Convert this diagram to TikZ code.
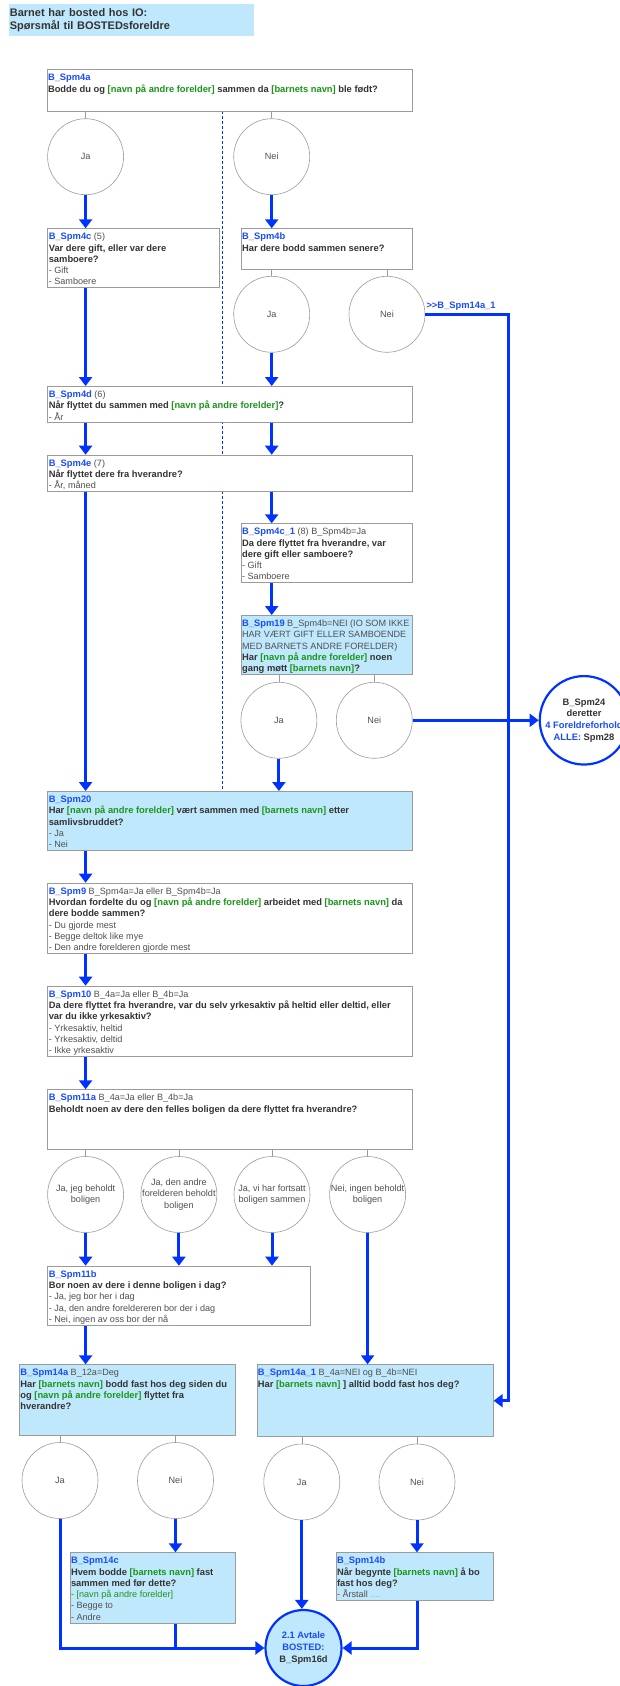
\documentclass[tikz,border=0pt]{standalone}
\usepackage{fontspec}
\setmainfont{Liberation Sans}
\usetikzlibrary{positioning,arrows.meta}

\definecolor{flowblue}{RGB}{0,51,255}
\definecolor{idblue}{RGB}{25,75,255}
\definecolor{boxgray}{RGB}{155,155,155}
\definecolor{qfill}{RGB}{192,232,252}
\definecolor{txtgray}{RGB}{51,51,51}
\definecolor{optgray}{RGB}{80,80,80}
\definecolor{navngreen}{RGB}{25,150,25}

\newcommand{\qfont}{\fontsize{9.1}{11.3}\selectfont}
\newcommand{\qq}[1]{{\fontsize{9.35}{11.3}\selectfont\bfseries #1}}
\newcommand{\qid}[1]{\qq{\textcolor{idblue}{#1}}}
\newcommand{\gr}[1]{\textcolor{navngreen}{#1}}
\newcommand{\opt}[1]{\textcolor{optgray}{#1}}
\newcommand{\lin}[1]{\makebox[0pt]{#1}}
\newcommand{\qtext}[3]{\begin{minipage}[t][#2][t]{#1}\raggedright\rule{0pt}{9pt}#3\end{minipage}}

\tikzset{
	qbox/.style={draw=boxgray, line width=0.8pt, fill=white, anchor=north west, inner xsep=1pt, inner ysep=2pt, font=\qfont, text=txtgray},
	qboxblue/.style={qbox, fill=qfill},
	svar/.style={circle, draw=boxgray, line width=0.6pt, fill=white, minimum size=76pt, inner sep=0pt, align=center, font=\qfont, text=optgray},
	slutt/.style={circle, draw=flowblue, line width=2.2pt, inner sep=0pt, align=center, font=\fontsize{9.35}{11.6}\selectfont\bfseries, text=txtgray},
	flow/.style={draw=flowblue, line width=3pt, -{Triangle[width=13pt,length=9pt]}},
	flowline/.style={draw=flowblue, line width=3pt},
	tie/.style={draw=boxgray, line width=0.6pt},
	skille/.style={draw=flowblue, line width=0.8pt, dash pattern=on 3pt off 2pt}
}

\begin{document}
\begin{tikzpicture}[x=1pt,y=-1pt]
	\useasboundingbox (0,0) rectangle (619,1686);

	\node[anchor=north west, fill=qfill, minimum width=245pt, minimum height=31.7pt, text width=243pt, inner xsep=1pt, inner ysep=0pt, align=left, font=\fontsize{11}{13.3}\selectfont\bfseries, text=txtgray] (tittel) at (8.7,4) {Barnet har bosted hos IO:\\Spørsmål til BOSTEDsforeldre};

	\coordinate (skille_topp) at (222.5,111);
	\coordinate (skille_bunn) at (222.5,791);
	\draw[skille] (skille_topp) -- (skille_bunn);

	\node[qbox] (q4a) at (46.6,69.3) {\qtext{363.7pt}{37.7pt}{\qid{B\_Spm4a}\\ \qq{Bodde du og \gr{[navn på andre forelder]} sammen da \gr{[barnets navn]} ble født?}}};
	\node[svar] (a4_ja) at (85.6,156.7) {Ja};
	\node[svar] (a4_nei) at (271.7,156.7) {Nei};

	\node[qbox] (q4c) at (47.4,228.3) {\qtext{169.2pt}{54.7pt}{\qid{B\_Spm4c} \opt{(5)}\\ \qq{Var dere gift, eller var dere\\ samboere?}\\ \opt{- Gift}\\ \opt{- Samboere}}};
	\node[qbox] (q4b) at (240.7,228.3) {\qtext{169.6pt}{37pt}{\qid{B\_Spm4b}\\ \qq{Har dere bodd sammen senere?}}};
	\node[svar] (a4b_ja) at (271.7,314.3) {Ja};
	\node[svar] (a4b_nei) at (387,314.3) {Nei};

	\node[qbox] (q4d) at (47.4,386) {\qtext{363pt}{32.3pt}{\qid{B\_Spm4d} \opt{(6)}\\ \qq{Når flyttet du sammen med \gr{[navn på andre forelder]}?}\\ \opt{- År}}};
	\node[qbox] (q4e) at (47.4,454.7) {\qtext{363pt}{32.3pt}{\qid{B\_Spm4e} \opt{(7)}\\ \qq{Når flyttet dere fra hverandre?}\\ \opt{- År, måned}}};

	\node[qbox] (q4c1) at (240.7,523.3) {\qtext{169.6pt}{55pt}{\qid{B\_Spm4c\_1} \opt{(8) B\_Spm4b=Ja}\\ \qq{Da dere flyttet fra hverandre, var\\ dere gift eller samboere?}\\ \opt{- Gift}\\ \opt{- Samboere}}};
	\node[qboxblue] (q19) at (240.7,615) {\qtext{169.6pt}{55.3pt}{\qid{B\_Spm19} \opt{B\_Spm4b=NEI (IO SOM IKKE\\ HAR VÆRT GIFT ELLER SAMBOENDE\\ MED BARNETS ANDRE FORELDER)}\\ \qq{Har \gr{[navn på andre forelder]} noen\\ gang møtt \gr{[barnets navn]}?}}};
	\node[svar] (a19_ja) at (278.9,720.3) {Ja};
	\node[svar] (a19_nei) at (374.3,720.3) {Nei};
	\node[slutt, minimum size=86pt, fill=white] (e24) at (584,720.3) {B\_Spm24\\deretter\\\textcolor{idblue}{4 Foreldreforhold}\\\textcolor{idblue}{ALLE:} Spm28};

	\node[qboxblue] (q20) at (47.4,791) {\qtext{363pt}{55pt}{\qid{B\_Spm20}\\ \qq{Har \gr{[navn på andre forelder]} vært sammen med \gr{[barnets navn]} etter\\ samlivsbruddet?}\\ \opt{- Ja}\\ \opt{- Nei}}};
	\node[qbox] (q9) at (47.4,882.7) {\qtext{363pt}{66.6pt}{\qid{B\_Spm9} \opt{B\_Spm4a=Ja eller B\_Spm4b=Ja}\\ \qq{Hvordan fordelte du og \gr{[navn på andre forelder]} arbeidet med \gr{[barnets navn]} da\\ dere bodde sammen?}\\ \opt{- Du gjorde mest}\\ \opt{- Begge deltok like mye}\\ \opt{- Den andre forelderen gjorde mest}}};
	\node[qbox] (q10) at (47.4,985.7) {\qtext{363pt}{66.6pt}{\qid{B\_Spm10} \opt{B\_4a=Ja eller B\_4b=Ja}\\ \qq{Da dere flyttet fra hverandre, var du selv yrkesaktiv på heltid eller deltid, eller\\ var du ikke yrkesaktiv?}\\ \opt{- Yrkesaktiv, heltid}\\ \opt{- Yrkesaktiv, deltid}\\ \opt{- Ikke yrkesaktiv}}};
	\node[qbox] (q11a) at (47.4,1089.3) {\qtext{363pt}{55.4pt}{\qid{B\_Spm11a} \opt{B\_4a=Ja eller B\_4b=Ja}\\ \qq{Beholdt noen av dere den felles boligen da dere flyttet fra hverandre?}}};
	\node[svar] (a11_1) at (85.6,1194.5) {\lin{Ja, jeg beholdt}\\\lin{boligen}};
	\node[svar] (a11_2) at (178.9,1194.5) {\lin{Ja, den andre}\\\lin{forelderen beholdt}\\\lin{boligen}};
	\node[svar] (a11_3) at (272,1194.5) {\lin{Ja, vi har fortsatt}\\\lin{boligen sammen}};
	\node[svar] (a11_4) at (367.6,1194.5) {\lin{Nei, ingen beholdt}\\\lin{boligen}};

	\node[qbox] (q11b) at (47.4,1265.7) {\qtext{260.6pt}{55.3pt}{\qid{B\_Spm11b}\\ \qq{Bor noen av dere i denne boligen i dag?}\\ \opt{- Ja, jeg bor her i dag}\\ \opt{- Ja, den andre foreldereren bor der i dag}\\ \opt{- Nei, ingen av oss bor der nå}}};

	\node[qboxblue] (q14a) at (19,1364.3) {\qtext{214.2pt}{66.7pt}{\qid{B\_Spm14a} \opt{B\_12a=Deg}\\ \qq{Har \gr{[barnets navn]} bodd fast hos deg siden du\\ og \gr{[navn på andre forelder]} flyttet fra\\ hverandre?}}};
	\node[qboxblue] (q14a1) at (256.5,1364.3) {\qtext{234.4pt}{68pt}{\qid{B\_Spm14a\_1} \opt{B\_4a=NEI og B\_4b=NEI}\\ \qq{Har \gr{[barnets navn]} ] alltid bodd fast hos deg?}}};
	\node[svar] (a14_ja) at (60,1480.5) {Ja};
	\node[svar] (a14_nei) at (175.5,1480.5) {Nei};
	\node[svar] (a14b_ja) at (301.8,1482) {Ja};
	\node[svar] (a14b_nei) at (417,1482) {Nei};

	\node[qboxblue] (q14c) at (69.6,1552.3) {\qtext{163.2pt}{67pt}{\qid{B\_Spm14c}\\ \qq{Hvem bodde \gr{[barnets navn]} fast\\ sammen med før dette?}\\ \gr{- [navn på andre forelder]}\\ \opt{- Begge to}\\ \opt{- Andre}}};
	\node[qboxblue] (q14b) at (335.6,1552.3) {\qtext{155.7pt}{44pt}{\qid{B\_Spm14b}\\ \qq{Når begynte \gr{[barnets navn]} å bo\\ fast hos deg?}\\ \opt{- Årstall} \textcolor{optgray!45}{....}}};
	\node[slutt, minimum size=76pt, fill=qfill] (e21) at (303.5,1648) {\textcolor{idblue}{2.1 Avtale}\\\textcolor{idblue}{BOSTED:}\\B\_Spm16d};

	\foreach \b/\c in {q4a/a4_ja, q4a/a4_nei, q4b/a4b_ja, q4b/a4b_nei, q19/a19_ja, q19/a19_nei, q11a/a11_1, q11a/a11_2, q11a/a11_3, q11a/a11_4, q14a/a14_ja, q14a/a14_nei, q14a1/a14b_ja, q14a1/a14b_nei}
	{ \draw[tie] (\c.north) -- (\c.north |- \b.south);
	}

	\draw[flow] (a4_ja.south) -- (a4_ja.south |- q4c.north);
	\draw[flow] (a4_nei.south) -- (a4_nei.south |- q4b.north);
	\draw[flow] (q4c.south -| a4_ja.center) -- (q4d.north -| a4_ja.center);
	\draw[flow] (a4b_ja.south) -- (a4b_ja.south |- q4d.north);
	\foreach \x in {a4_ja, a4b_ja}
	{ \draw[flow] (q4d.south -| \x.center) -- (q4e.north -| \x.center);
	}
	\draw[flow] (q4e.south -| a4_ja.center) -- (q20.north -| a4_ja.center);
	\draw[flow] (q4e.south -| a4b_ja.center) -- (q4c1.north -| a4b_ja.center);
	\draw[flow] (q4c1.south -| a4b_ja.center) -- (q19.north -| a4b_ja.center);
	\draw[flow] (a19_ja.south) -- (a19_ja.south |- q20.north);

	\coordinate (hjorne) at (508,314.3);
	\draw[flow] (a4b_nei.east) -- (hjorne) |- (q14a1.east);
	\node[anchor=south west, inner sep=1pt, yshift=2.5pt, font=\fontsize{9.35}{11}\selectfont\bfseries, text=idblue] (hopp) at (a4b_nei.east) {>\kern0pt>B\_Spm14a\_1};
	\draw[flow] (a19_nei.east) -- (e24.west);

	\foreach \a/\b in {q20/q9, q9/q10, q10/q11a}
	{ \draw[flow] (\a.south -| a4_ja.center) -- (\b.north -| a4_ja.center);
	}
	\foreach \c in {a11_1, a11_2, a11_3}
	{ \draw[flow] (\c.south) -- (\c.south |- q11b.north);
	}
	\draw[flow] (a11_4.south) -- (a11_4.south |- q14a1.north);
	\draw[flow] (q11b.south -| a4_ja.center) -- (q14a.north -| a4_ja.center);

	\draw[flow] (a14_ja.south) |- (e21.west);
	\draw[flow] (a14_nei.south) -- (a14_nei.south |- q14c.north);
	\draw[flowline] (q14c.south -| a14_nei.center) -- (a14_nei.center |- e21.west);
	\draw[flow] (a14b_ja.south) -- (a14b_ja.south |- e21.north);
	\draw[flow] (a14b_nei.south) -- (a14b_nei.south |- q14b.north);
	\draw[flow] (q14b.south -| a14b_nei.center) |- (e21.east);
\end{tikzpicture}
\end{document}
